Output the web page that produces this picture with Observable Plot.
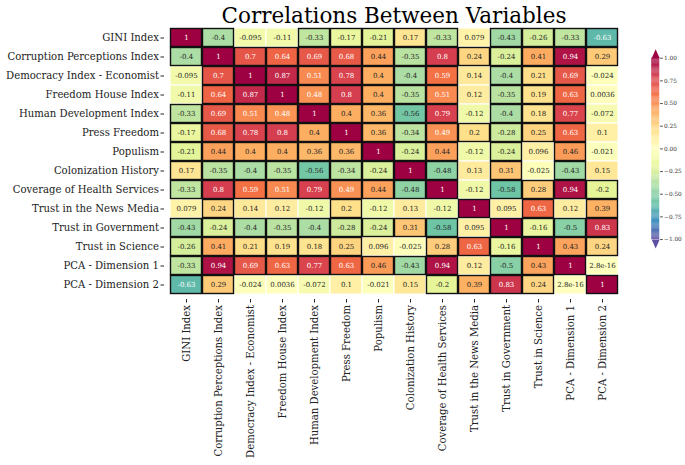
<!DOCTYPE html>
<html>
<head>
<meta charset="utf-8">
<script src="https://cdn.jsdelivr.net/npm/d3@7"></script>
<script src="https://cdn.jsdelivr.net/npm/@observablehq/plot@0.6"></script>
<style>
  body { margin: 0; background: #fff; }
  #wrap { position: relative; width: 685px; height: 465px; font-family: "DejaVu Serif", serif; }
  #cbar { position: absolute; left: 645px; top: 40px; }
  svg text { font-family: "DejaVu Serif", serif; }
</style>
</head>
<body>
<div id="wrap"><div id="main"></div><div id="cbar"></div></div>
<script>
const title = "Correlations Between Variables";
const variables = [
  "GINI Index", "Corruption Perceptions Index", "Democracy Index - Economist",
  "Freedom House Index", "Human Development Index", "Press Freedom", "Populism",
  "Colonization History", "Coverage of Health Services", "Trust in the News Media",
  "Trust in Government", "Trust in Science", "PCA - Dimension 1", "PCA - Dimension 2"
];
const giniIndex        = [1, -0.4, -0.095, -0.11, -0.33, -0.17, -0.21, 0.17, -0.33, 0.079, -0.43, -0.26, -0.33, -0.63];
const corruption       = [-0.4, 1, 0.7, 0.64, 0.69, 0.68, 0.44, -0.35, 0.8, 0.24, -0.24, 0.41, 0.94, 0.29];
const democracy        = [-0.095, 0.7, 1, 0.87, 0.51, 0.78, 0.4, -0.4, 0.59, 0.14, -0.4, 0.21, 0.69, -0.024];
const freedomHouse     = [-0.11, 0.64, 0.87, 1, 0.48, 0.8, 0.4, -0.35, 0.51, 0.12, -0.35, 0.19, 0.63, 0.0036];
const humanDev         = [-0.33, 0.69, 0.51, 0.48, 1, 0.4, 0.36, -0.56, 0.79, -0.12, -0.4, 0.18, 0.77, -0.072];
const pressFreedom     = [-0.17, 0.68, 0.78, 0.8, 0.4, 1, 0.36, -0.34, 0.49, 0.2, -0.28, 0.25, 0.63, 0.1];
const populism         = [-0.21, 0.44, 0.4, 0.4, 0.36, 0.36, 1, -0.24, 0.44, -0.12, -0.24, 0.096, 0.46, -0.021];
const colonization     = [0.17, -0.35, -0.4, -0.35, -0.56, -0.34, -0.24, 1, -0.48, 0.13, 0.31, -0.025, -0.43, 0.15];
const healthCoverage   = [-0.33, 0.8, 0.59, 0.51, 0.79, 0.49, 0.44, -0.48, 1, -0.12, -0.58, 0.28, 0.94, -0.2];
const trustMedia       = [0.079, 0.24, 0.14, 0.12, -0.12, 0.2, -0.12, 0.13, -0.12, 1, 0.095, 0.63, 0.12, 0.39];
const trustGovernment  = [-0.43, -0.24, -0.4, -0.35, -0.4, -0.28, -0.24, 0.31, -0.58, 0.095, 1, -0.16, -0.5, 0.83];
const trustScience     = [-0.26, 0.41, 0.21, 0.19, 0.18, 0.25, 0.096, -0.025, 0.28, 0.63, -0.16, 1, 0.43, 0.24];
const pca1             = [-0.33, 0.94, 0.69, 0.63, 0.77, 0.63, 0.46, -0.43, 0.94, 0.12, -0.5, 0.43, 1, 2.8e-16];
const pca2             = [-0.63, 0.29, -0.024, 0.0036, -0.072, 0.1, -0.021, 0.15, -0.2, 0.39, 0.83, 0.24, 2.8e-16, 1];
const colorbarTicks    = [-1, -0.75, -0.5, -0.25, 0, 0.25, 0.5, 0.75, 1];

const rows = [giniIndex, corruption, democracy, freedomHouse, humanDev, pressFreedom, populism,
  colonization, healthCoverage, trustMedia, trustGovernment, trustScience, pca1, pca2];

const data = [];
rows.forEach((r, i) => r.forEach((v, j) => data.push({row: variables[i], col: variables[j], value: v})));

// matplotlib Spectral_r
const stopColors = ["#5e4fa2","#3288bd","#66c2a5","#abdda4","#e6f598","#ffffbf","#fee08b","#fdae61","#f46d43","#d53e4f","#9e0142"];
const stopDomain = d3.range(11).map(i => -1 + i * 0.2);
const colorFn = d3.scaleLinear().domain(stopDomain).range(stopColors).interpolate(d3.interpolateRgb).clamp(true);

function lum(c) {
  const k = d3.rgb(c);
  const f = x => { x /= 255; return x <= 0.03928 ? x / 12.92 : Math.pow((x + 0.055) / 1.055, 2.4); };
  return 0.2126 * f(k.r) + 0.7152 * f(k.g) + 0.0722 * f(k.b);
}
function fmt(v) {
  if (v !== 0 && Math.abs(v) < 1e-4) return v.toExponential(1);
  return String(Number(v.toPrecision(2)));
}
const font = "DejaVu Serif";

const chart = Plot.plot({
  width: 685,
  height: 465,
  marginLeft: 164,
  marginRight: 62,
  marginTop: 23,
  marginBottom: 166,
  style: {fontFamily: font, background: "#fff"},
  x: {type: "band", domain: variables, padding: 0, label: null, tickRotate: -90, tickSize: 3.5, tickPadding: 2},
  y: {type: "band", domain: variables, padding: 0, label: null, tickSize: 3.5, tickPadding: 2},
  color: {type: "linear", domain: stopDomain, range: stopColors, interpolate: "rgb"},
  marks: [
    Plot.cell(data, {x: "col", y: "row", fill: "value", stroke: "white", strokeWidth: 1}),
    Plot.cell(data.filter(d => Math.abs(d.value) > 0.155), {x: "col", y: "row", fill: "none", stroke: "#111", strokeWidth: 1.4, inset: 0.5}),
    Plot.text(data, {x: "col", y: "row", text: d => fmt(d.value), fontSize: 7, fontFamily: font,
      fill: d => lum(colorFn(d.value)) < 0.42 ? "white" : "#262626"}),
    Plot.axisX({anchor: "bottom", tickRotate: -90, fontSize: 10.1, fontFamily: font, tickSize: 3.5, tickPadding: 2, label: null, color: "#222"}),
    Plot.axisY({anchor: "left", fontSize: 10.1, fontFamily: font, tickSize: 3.5, tickPadding: 2, label: null, color: "#222"}),
    Plot.text([title], {frameAnchor: "top", lineAnchor: "bottom", dy: -1, fontSize: 21.5, fontFamily: font, fill: "#000"})
  ]
});
document.getElementById("main").appendChild(chart);

// colorbar
const ramp = d3.range(-1, 1, 0.01).map(v => ({y1: v, y2: v + 0.0105, v: v + 0.005}));
const cb = Plot.plot({
  width: 45,
  height: 245,
  marginTop: 20,
  marginBottom: 21,
  marginLeft: 7,
  marginRight: 29,
  style: {fontFamily: font, background: "transparent"},
  x: {domain: [0, 1], axis: null},
  y: {domain: [-1, 1], label: null},
  color: {type: "linear", domain: stopDomain, range: stopColors, interpolate: "rgb"},
  marks: [
    Plot.rect(ramp, {x1: 0, x2: 1, y1: "y1", y2: "y2", fill: "v"}),
    Plot.line([[0, 1], [0.5, 1.1], [1, 1]], {x: d => d[0], y: d => d[1], fill: stopColors[10], stroke: "none"}),
    Plot.line([[0, -1], [0.5, -1.1], [1, -1]], {x: d => d[0], y: d => d[1], fill: stopColors[0], stroke: "none"}),
    Plot.axisY({anchor: "right", ticks: colorbarTicks, tickFormat: d3.format(".2f"), fontSize: 6.5, fontFamily: font, tickSize: 3, tickPadding: 2, label: null, color: "#333"})
  ]
});
document.getElementById("cbar").appendChild(cb);
</script>
</body>
</html>
